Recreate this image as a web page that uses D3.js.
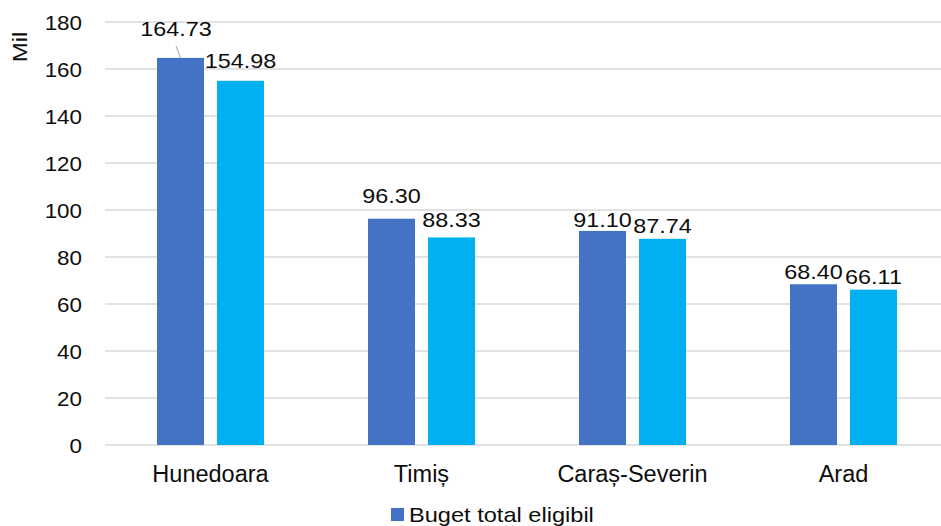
<!DOCTYPE html>
<html>
<head>
<meta charset="utf-8">
<script src="https://cdn.jsdelivr.net/npm/d3@7"></script>
<style>
  body { margin: 0; background: #fff; }
  text { font-family: "Liberation Sans", Arial, sans-serif; fill: #0d0d0d; }
</style>
</head>
<body>
<svg id="chart" width="941" height="526"></svg>
<script>
// data
const judete = ["Hunedoara", "Timiș", "Caraș-Severin", "Arad"];
const bugetTotal = [164.73, 96.30, 91.10, 68.40];
const serie2 = [154.98, 88.33, 87.74, 66.11];
const yTicks = [0, 20, 40, 60, 80, 100, 120, 140, 160, 180];
const legendNames = ["Buget total eligibil"];
const colors = ["#4472C4", "#00B0F0"];

// label nudges (Excel moved a few labels by hand): [dark, light] lift in px
const labelLift = [[22, 13], [16, 10], [4, 6], [5, 6]];

const svg = d3.select("#chart");
const plotLeft = 105, plotRight = 949, plotTop = 22, plotBottom = 445;

const x = d3.scaleBand().domain(judete).range([plotLeft, plotRight]).paddingInner(0).paddingOuter(0);
const xs = d3.scaleBand().domain([0, 1]).range([-53.5, 53.5]).paddingInner(13 / 60);
const y = d3.scaleLinear().domain([0, 180]).range([plotBottom, plotTop]);

// stretched text helper (reference glyphs are wider than Liberation Sans)
function sText(g, tx, ty, str, size, k, anchor) {
  return g.append("text")
    .attr("transform", "translate(" + tx + "," + ty + ") scale(" + k + ",1)")
    .attr("text-anchor", anchor)
    .style("font-size", size + "px")
    .text(str);
}

// gridlines
svg.append("g")
  .selectAll("line")
  .data(yTicks)
  .enter()
  .append("line")
  .attr("x1", plotLeft)
  .attr("x2", 941)
  .attr("y1", d => y(d))
  .attr("y2", d => y(d))
  .attr("stroke", "#d9d9d9")
  .attr("stroke-width", 1.6);

// y axis labels
const yAxis = d3.axisLeft(y).tickValues(yTicks).tickSize(0).tickPadding(0);
const gy = svg.append("g").attr("transform", "translate(" + plotLeft + ",0)").call(yAxis);
gy.select(".domain").remove();
gy.selectAll("text")
  .attr("x", 0)
  .attr("dy", null)
  .attr("transform", "translate(-23,7) scale(1.12,1)")
  .style("font-size", "20px")
  .style("font-family", "\"Liberation Sans\", Arial, sans-serif")
  .attr("fill", "#0d0d0d");

// y title
svg.append("text")
  .attr("transform", "translate(27,47) rotate(-90) scale(1.2,1)")
  .attr("text-anchor", "middle")
  .style("font-size", "20px")
  .text("Mil");

// bars
const series = [bugetTotal, serie2];
series.forEach((vals, s) => {
  svg.append("g")
    .selectAll("rect")
    .data(vals)
    .enter()
    .append("rect")
    .attr("x", (d, i) => x(judete[i]) + x.bandwidth() / 2 + xs(s))
    .attr("y", d => y(d))
    .attr("width", xs.bandwidth())
    .attr("height", d => y(0) - y(d))
    .attr("fill", colors[s]);
});

// data labels
const gl = svg.append("g");
series.forEach((vals, s) => {
  vals.forEach((v, i) => {
    const cx = x(judete[i]) + x.bandwidth() / 2 + xs(s) + xs.bandwidth() / 2;
    const lift = labelLift[i][s];
    const shift = lift > 18 ? -4.5 : 0;
    sText(gl, cx + shift, y(v) - lift, d3.format(".2f")(v), 20, 1.17, "middle");
    if (lift > 18) {
      gl.append("line")
        .attr("x1", cx + shift)
        .attr("y1", y(v) - lift + 10)
        .attr("x2", cx)
        .attr("y2", y(v))
        .attr("stroke", "#a6a6a6")
        .attr("stroke-width", 1);
    }
  });
});

// category labels
const gx = svg.append("g");
judete.forEach(j => {
  gx.append("text")
    .attr("x", x(j) + x.bandwidth() / 2)
    .attr("y", plotBottom + 37)
    .attr("text-anchor", "middle")
    .style("font-size", "23.5px")
    .text(j);
});

// legend (bottom, partly cut off like the reference)
const lg = svg.append("g").attr("transform", "translate(391,508)");
legendNames.forEach((n, i) => {
  lg.append("rect")
    .attr("x", 0)
    .attr("y", 0)
    .attr("width", 13)
    .attr("height", 13)
    .attr("fill", colors[i]);
  sText(lg, 18, 14, n, 20, 1.18, "start");
});
</script>
</body>
</html>
